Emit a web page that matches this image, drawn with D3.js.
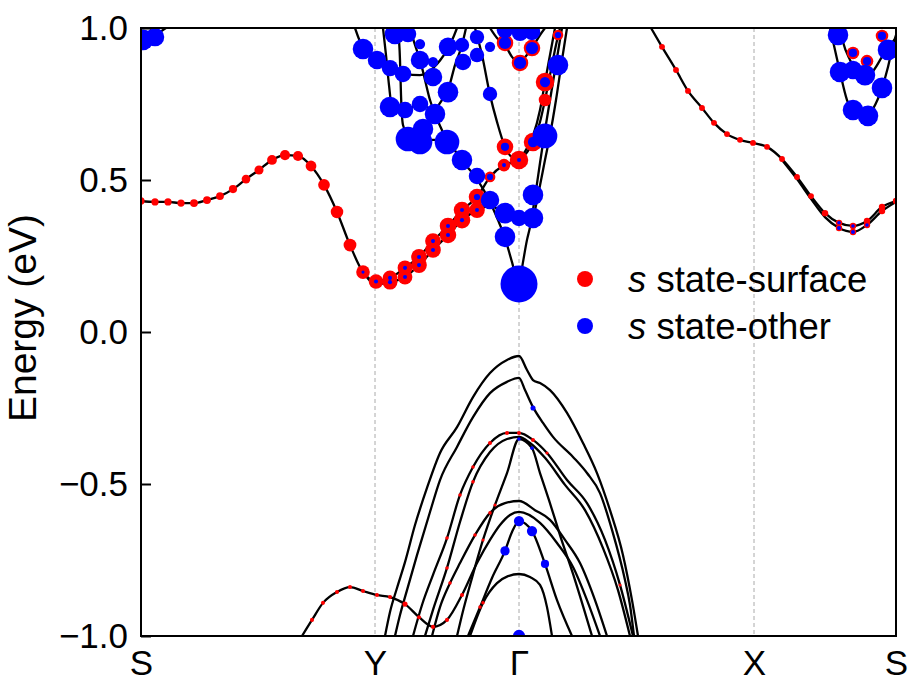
<!DOCTYPE html>
<html lang="en">
<head>
<meta charset="UTF-8">
<title>s-state projected bands</title>
<script src="https://cdn.jsdelivr.net/npm/d3@7"></script>
<style>
  body { margin: 0; background: #fff; }
  svg { display: block; font-family: "Liberation Sans", Arial, sans-serif; }
</style>
</head>
<body>
<svg id="chart" width="912" height="681"></svg>
<script>
// k-path (index along S-Y-G-X-S) and energy ticks
const kTicks = [0, 234, 378, 613, 755];
const kLabels = ["S", "Y", "Γ", "X", "S"];
const eTicks = [-1.0, -0.5, 0.0, 0.5, 1.0];

// valence bands, [k, E (eV)]
const bandV1 = [[161,-1.0],[171,-0.947],[182,-0.891],[196,-0.855],[209,-0.839],[222,-0.852],[236,-0.865],[249,-0.872],[264,-0.895],[278,-0.938],[292,-0.970],[306,-0.947],[321,-0.865],[336,-0.760],[349,-0.684],[359,-0.635],[369,-0.602],[378,-0.592],[399,-0.628],[416,-0.694],[432,-0.773],[446,-0.882],[459,-1.0]];
const bandA = [[244,-1.0],[249,-0.921],[256,-0.842],[264,-0.757],[274,-0.635],[286,-0.513],[299,-0.398],[316,-0.313],[332,-0.214],[349,-0.135],[366,-0.092],[378,-0.079],[386,-0.125],[392,-0.158],[399,-0.168],[409,-0.191],[426,-0.266],[442,-0.365],[456,-0.464],[469,-0.586],[482,-0.734],[491,-0.882],[497,-1.0]];
const bandB = [[254,-1.0],[259,-0.931],[266,-0.849],[276,-0.734],[289,-0.592],[299,-0.487],[316,-0.378],[332,-0.280],[349,-0.201],[366,-0.164],[378,-0.151],[384,-0.191],[392,-0.247],[402,-0.299],[412,-0.345],[432,-0.411],[446,-0.464],[459,-0.530],[471,-0.651],[484,-0.816],[489,-0.898],[493,-1.0]];
const bandC1 = [[272,-1.0],[281,-0.898],[292,-0.799],[306,-0.678],[319,-0.536],[332,-0.444],[349,-0.365],[366,-0.332],[378,-0.332],[392,-0.355],[406,-0.398],[426,-0.487],[446,-0.563],[464,-0.684],[479,-0.832],[492,-1.0]];
const bandC2 = [[284,-1.0],[292,-0.914],[306,-0.776],[319,-0.625],[332,-0.493],[349,-0.395],[366,-0.352],[378,-0.345],[389,-0.365],[404,-0.414],[424,-0.503],[444,-0.586],[462,-0.711],[477,-0.849],[489,-1.0]];
const bandD = [[316,-1.0],[321,-0.931],[331,-0.809],[342,-0.684],[354,-0.569],[366,-0.464],[378,-0.352],[391,-0.382],[399,-0.464],[408,-0.553],[419,-0.668],[434,-0.816],[451,-1.0]];
const bandE = [[291,-1.0],[299,-0.905],[309,-0.826],[319,-0.760],[334,-0.668],[349,-0.595],[364,-0.563],[378,-0.556],[394,-0.586],[409,-0.618],[424,-0.684],[439,-0.760],[454,-0.882],[466,-1.0]];
const bandG = [[327,-1.0],[339,-0.905],[351,-0.809],[364,-0.720],[371,-0.658],[378,-0.622],[391,-0.655],[404,-0.763],[416,-0.882],[431,-1.0]];
const bandH = [[329,-1.0],[342,-0.891],[356,-0.826],[367,-0.803],[378,-0.796],[389,-0.806],[399,-0.832],[406,-0.905],[411,-1.0]];

// conduction bands
const bandC_S = [[0,0.431],[14,0.428],[27,0.428],[40,0.424],[53,0.424],[66,0.434],[79,0.447],[92,0.470],[105,0.503],[118,0.533],[131,0.566],[144,0.582],[157,0.579],[170,0.546],[183,0.484],[196,0.395],[209,0.286],[222,0.197],[235,0.168],[249,0.178],[264,0.211],[278,0.247],[292,0.299],[307,0.349],[321,0.401],[336,0.444],[349,0.510],[363,0.549],[378,0.566],[392,0.625],[399,0.691],[404,0.763],[410,0.862],[415,0.944],[419,1.0]];
const bandC_S2 = [[222,0.197],[235,0.158],[249,0.164],[264,0.181],[278,0.220],[292,0.270],[307,0.319],[321,0.368],[336,0.401],[349,0.414],[364,0.391],[378,0.375],[392,0.382],[397,0.451],[404,0.566],[409,0.648],[415,0.763],[421,0.895],[426,1.0]];
const bandCV = [[257,1.0],[259,0.895],[260,0.780],[262,0.681],[269,0.638],[281,0.632],[294,0.632],[307,0.622],[321,0.563],[336,0.503],[349,0.428],[357,0.368],[364,0.309],[371,0.230],[378,0.155],[382,0.230],[386,0.303],[389,0.345],[394,0.444],[399,0.556],[404,0.664],[409,0.763],[414,0.862],[419,0.961],[421,1.0]];
const bandT1 = [[214,1.0],[222,0.934],[236,0.895],[249,0.868],[264,0.849],[279,0.845],[292,0.868],[306,0.928],[312,0.967],[316,1.0]];
const bandT2 = [[242,1.0],[245,0.911],[248,0.812],[251,0.740],[264,0.730],[279,0.750],[292,0.730],[301,0.763],[307,0.796],[314,0.878],[321,0.944],[325,1.0]];
const bandT4 = [[269,1.0],[274,0.944],[279,0.895],[284,0.829],[289,0.763],[294,0.717],[300,0.671],[307,0.622]];
const bandCG1 = [[334,1.0],[341,0.911],[349,0.780],[356,0.691],[364,0.609],[371,0.576],[378,0.572],[385,0.599],[392,0.645],[399,0.730],[404,0.822],[409,0.911],[414,1.0]];
const bandCG2 = [[349,1.0],[356,0.967],[364,0.944],[371,0.905],[378,0.885],[385,0.908],[391,0.934],[399,0.977],[404,1.0]];
const bandTL = [[0,0.954],[9,0.967],[19,0.987],[25,1.0]];
const bandCX = [[510,1.0],[521,0.938],[535,0.862],[547,0.793],[561,0.737],[573,0.688],[586,0.651],[599,0.632],[612,0.622],[626,0.609],[641,0.569],[656,0.510],[670,0.447],[684,0.391],[698,0.359],[712,0.349],[726,0.365],[741,0.411],[755,0.431]];
const bandCX2 = [[641,0.566],[656,0.503],[670,0.438],[684,0.378],[698,0.342],[712,0.329],[726,0.352],[741,0.398],[755,0.428]];
const bandXS1 = [[689,1.0],[694,0.928],[699,0.855],[706,0.763],[712,0.724],[719,0.707],[727,0.711],[732,0.734],[741,0.803],[747,0.872],[752,0.944],[755,0.977]];
const bandXS2 = [[699,1.0],[702,0.954],[709,0.895],[717,0.855],[724,0.845],[731,0.855],[741,0.905],[749,0.944],[755,0.967]];

const bands = [bandV1, bandA, bandB, bandC1, bandC2, bandD, bandE, bandG, bandH,
  bandC_S, bandC_S2, bandCV, bandT1, bandT2, bandT4, bandCG1, bandCG2, bandTL,
  bandCX, bandCX2, bandXS1, bandXS2];

// s-state weights, [k, E, weight]
const surfaceDots = [
  [0,0.431,0.038],[14,0.428,0.038],[27,0.428,0.038],[40,0.424,0.038],[53,0.424,0.045],[66,0.434,0.045],[79,0.447,0.045],[92,0.470,0.049],[105,0.503,0.055],[118,0.533,0.06],[131,0.566,0.07],[144,0.582,0.075],[157,0.579,0.075],[170,0.546,0.085],[183,0.484,0.1],[196,0.395,0.115],[209,0.286,0.12],[222,0.197,0.135],[235,0.166,0.155],
  [249,0.178,0.16],[264,0.211,0.16],[278,0.247,0.18],[292,0.299,0.18],[307,0.349,0.2],[321,0.401,0.2],[336,0.444,0.2],
  [249,0.164,0.16],[264,0.181,0.16],[278,0.220,0.18],[292,0.270,0.18],[307,0.319,0.2],[321,0.368,0.2],[336,0.401,0.18],
  [349,0.510,0.085],[363,0.549,0.115],[364,0.609,0.2],[378,0.566,0.25],[392,0.625,0.25],[404,0.763,0.115],[404,0.822,0.25],[417,0.977,0.08],
  [364,0.951,0.2],[379,0.885,0.2],[391,0.934,0.2],
  [712,0.918,0.115],[726,0.891,0.115],[741,0.974,0.115],
  [521,0.938,0.025],[535,0.862,0.025],[547,0.793,0.025],[561,0.737,0.025],[573,0.688,0.025],[586,0.651,0.025],[599,0.632,0.025],[612,0.622,0.025],[626,0.609,0.025],[641,0.569,0.025],[656,0.510,0.025],[670,0.447,0.025],[684,0.391,0.03],[698,0.359,0.03],[712,0.349,0.03],[726,0.365,0.03],[741,0.411,0.03],[698,0.342,0.03],[712,0.329,0.03],[726,0.352,0.03],[741,0.398,0.03],[755,0.431,0.03],
  [171,-0.947,0.012],[182,-0.891,0.012],[196,-0.855,0.012],[209,-0.839,0.012],[222,-0.852,0.012],[236,-0.865,0.012],[249,-0.872,0.012],[264,-0.895,0.019],[278,-0.938,0.012],[292,-0.970,0.012],[306,-0.947,0.012],[321,-0.865,0.012],
  [306,-0.678,0.009],[319,-0.536,0.009],[332,-0.444,0.009],[349,-0.365,0.012],[366,-0.332,0.012],[378,-0.332,0.012],[392,-0.355,0.012],[406,-0.398,0.007],
  [306,-0.776,0.009],[332,-0.493,0.009],[309,-0.826,0.009],[334,-0.668,0.009],[349,-0.595,0.009],[342,-0.684,0.007],[354,-0.569,0.007],[342,-0.891,0.009],[339,-0.905,0.009],[479,-0.832,0.007]
];
const otherDots = [
  [2,0.961,0.309],[14,0.970,0.25],
  [222,0.931,0.309],[236,0.895,0.25],[249,0.868,0.198],[262,0.849,0.198],[254,0.980,0.309],[267,0.980,0.198],[279,0.947,0.077],[279,0.895,0.25],[292,0.888,0.077],[292,0.839,0.25],[307,0.938,0.25],[321,0.944,0.151],[322,0.888,0.198],[336,0.970,0.151],[336,0.911,0.151],[349,0.938,0.077],[307,0.789,0.309],
  [249,0.740,0.309],[264,0.730,0.198],[279,0.750,0.198],[294,0.717,0.309],[267,0.635,0.444],[279,0.625,0.444],[282,0.668,0.309],[306,0.625,0.444],[321,0.566,0.309],[336,0.513,0.198],[349,0.783,0.151],
  [349,0.434,0.25],[364,0.391,0.309],[364,0.313,0.309],[378,0.375,0.198],[392,0.451,0.309],[392,0.375,0.309],[378,0.158,1.0],[404,0.645,0.444],[417,0.878,0.309],
  [364,0.951,0.111],[379,0.885,0.111],[391,0.934,0.111],[379,0.984,0.198],[391,0.987,0.198],[364,0.993,0.198],[404,0.822,0.077],[364,0.609,0.049],[417,0.977,0.028],[378,0.566,0.012],[392,0.625,0.077],
  [249,0.178,0.012],[264,0.211,0.012],[278,0.247,0.012],[292,0.299,0.012],[307,0.349,0.012],[321,0.401,0.012],[336,0.444,0.028],[249,0.164,0.012],[264,0.181,0.012],[278,0.220,0.012],[292,0.270,0.012],[307,0.319,0.012],[321,0.368,0.012],[336,0.401,0.012],[349,0.510,0.028],[363,0.549,0.012],[222,0.197,0.007],[235,0.166,0.012],
  [697,0.977,0.309],[699,0.855,0.309],[712,0.862,0.25],[724,0.845,0.309],[741,0.803,0.309],[712,0.730,0.309],[727,0.711,0.309],[747,0.928,0.309],[712,0.918,0.049],[726,0.891,0.049],[741,0.974,0.049],
  [698,0.359,0.009],[712,0.349,0.009],[698,0.342,0.012],[712,0.329,0.012],[726,0.352,0.009],
  [378,-0.622,0.077],[391,-0.655,0.077],[364,-0.720,0.063],[404,-0.763,0.049],[378,-1.0,0.111],[392,-0.250,0.019],[378,-0.352,0.009],[391,-0.382,0.009]
];

const legendItems = [
  { label: "state-surface", color: "#ff0000" },
  { label: "state-other", color: "#0000ff" }
];

const svg = d3.select("#chart");
const x = d3.scaleLinear().domain([0, 755]).range([141, 896]);
const y = d3.scaleLinear().domain([-1, 1]).range([636, 28]);
const r = d3.scaleSqrt().domain([0, 1]).range([0, 18.5]);

svg.append("defs").append("clipPath").attr("id", "plot-area")
  .append("rect").attr("x", 141).attr("y", 28).attr("width", 755).attr("height", 608);

// dashed lines at Y, G, X
svg.append("g").selectAll("line")
  .data(kTicks.slice(1, -1))
  .join("line")
  .attr("x1", d => x(d)).attr("x2", d => x(d))
  .attr("y1", y(1)).attr("y2", y(-1))
  .attr("stroke", "#aaaaaa")
  .attr("stroke-width", 1)
  .attr("stroke-dasharray", "4,3");

const plot = svg.append("g").attr("clip-path", "url(#plot-area)");

const line = d3.line()
  .x(d => x(d[0]))
  .y(d => y(d[1]))
  .curve(d3.curveMonotoneX);

plot.append("g").selectAll("path")
  .data(bands)
  .join("path")
  .attr("d", line)
  .attr("fill", "none")
  .attr("stroke", "#000")
  .attr("stroke-width", 2.3);

plot.append("g").selectAll("circle")
  .data(surfaceDots)
  .join("circle")
  .attr("cx", d => x(d[0]))
  .attr("cy", d => y(d[1]))
  .attr("r", d => r(d[2]))
  .attr("fill", "#ff0000");

plot.append("g").selectAll("circle")
  .data(otherDots)
  .join("circle")
  .attr("cx", d => x(d[0]))
  .attr("cy", d => y(d[1]))
  .attr("r", d => r(d[2]))
  .attr("fill", "#0000ff");

// axes
const yAxis = svg.append("g")
  .attr("transform", `translate(${x(0)},0)`)
  .call(d3.axisLeft(y).tickValues(eTicks).tickFormat(d3.format(".1f"))
    .tickSizeInner(-10).tickSizeOuter(0).tickPadding(13));
yAxis.select(".domain").remove();
yAxis.selectAll(".tick line").attr("stroke", "#000").attr("stroke-width", 2);
yAxis.selectAll(".tick text").attr("font-size", 35).attr("fill", "#000")
  .attr("font-family", "'Liberation Sans', Arial, sans-serif");

const xAxis = svg.append("g")
  .attr("transform", `translate(0,${y(-1)})`)
  .call(d3.axisBottom(x).tickValues(kTicks).tickFormat((d, i) => kLabels[i])
    .tickSize(0).tickPadding(14));
xAxis.select(".domain").remove();
xAxis.selectAll(".tick text").attr("font-size", 35).attr("fill", "#000")
  .attr("font-family", "'Liberation Sans', Arial, sans-serif");

svg.append("rect")
  .attr("x", 141).attr("y", 28).attr("width", 755).attr("height", 608)
  .attr("fill", "none").attr("stroke", "#000").attr("stroke-width", 2);

svg.append("text")
  .attr("transform", "translate(36,318) rotate(-90)")
  .attr("text-anchor", "middle")
  .attr("font-size", 39)
  .text("Energy (eV)");

// legend
const legend = svg.append("g").attr("transform", "translate(585,279)");
const item = legend.selectAll("g")
  .data(legendItems)
  .join("g")
  .attr("transform", (d, i) => `translate(0,${i * 47})`);
item.append("circle").attr("r", 8).attr("fill", d => d.color);
const label = item.append("text")
  .attr("x", 43)
  .attr("dy", "0.35em")
  .attr("font-size", 36.5);
label.append("tspan").attr("font-style", "italic").text("s");
label.append("tspan").text(d => " " + d.label);
</script>
</body>
</html>
